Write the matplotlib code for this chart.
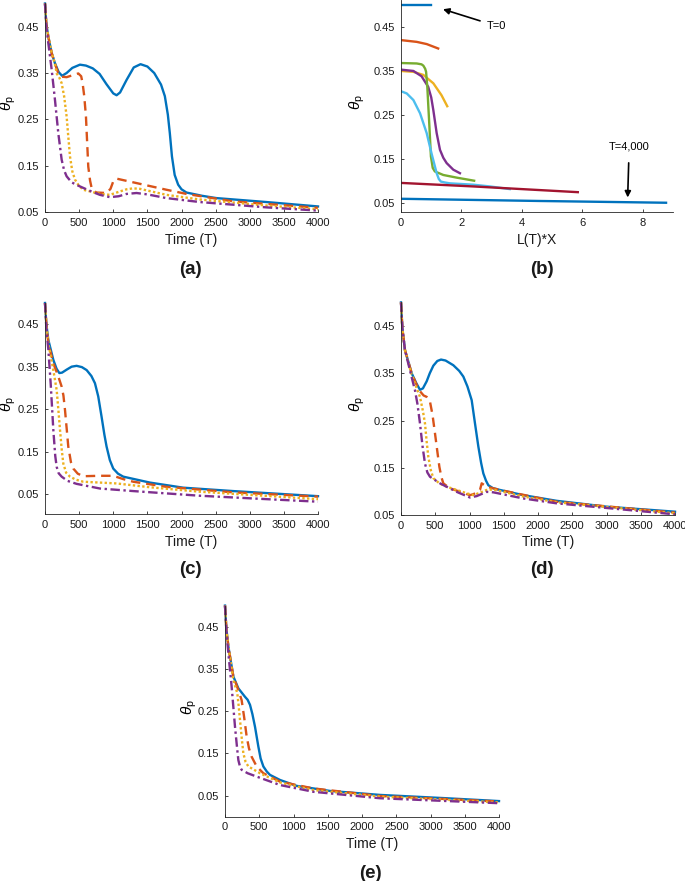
import matplotlib
matplotlib.use("Agg")
import matplotlib.pyplot as plt

plt.rcParams['font.family'] = ['Liberation Sans', 'DejaVu Sans']
plt.rcParams['mathtext.fontset'] = 'custom'
plt.rcParams['mathtext.rm'] = 'Liberation Sans'
plt.rcParams['mathtext.it'] = 'Liberation Sans:italic'

BLUE = '#0072BD'
ORANGE = '#D95319'
YELLOW = '#EDB120'
PURPLE = '#7E2F8E'
GREEN = '#77AC30'
LIGHTBLUE = '#4DBEEE'
DARKRED = '#A2142F'

yticks = [0.05, 0.15, 0.25, 0.35, 0.45]
xticks_time = [0, 500, 1000, 1500, 2000, 2500, 3000, 3500, 4000]
xticks_b = [0, 2, 4, 6, 8]

# panel (a)
a_blue_t = [0, 20, 49, 98, 146, 200, 250, 317, 400, 512, 600, 700, 800, 900, 1000, 1049, 1100, 1195,
            1300, 1400, 1500, 1600, 1700, 1756, 1800, 1829, 1860, 1900, 1951, 2000, 2073, 2300, 2512, 3244, 4000]
a_blue_y = [0.5, 0.455, 0.428, 0.393, 0.371, 0.352, 0.344, 0.350, 0.361, 0.368, 0.366, 0.360, 0.348, 0.326,
            0.306, 0.302, 0.308, 0.335, 0.362, 0.369, 0.364, 0.350, 0.325, 0.300, 0.260, 0.220, 0.170, 0.130,
            0.109, 0.099, 0.092, 0.085, 0.080, 0.0715, 0.062]
a_orange_t = [0, 20, 49, 98, 146, 200, 244, 317, 400, 488, 530, 551, 575, 600, 634, 660, 683, 720, 756, 902,
              960, 1000, 1049, 1293, 1780, 2073, 2756, 4000]
a_orange_y = [0.5, 0.455, 0.428, 0.393, 0.37, 0.347, 0.342, 0.341, 0.345, 0.349, 0.343, 0.328, 0.300, 0.256,
              0.148, 0.118, 0.102, 0.095, 0.092, 0.091, 0.100, 0.116, 0.122, 0.114, 0.098, 0.089, 0.073, 0.059]
a_yellow_t = [0, 20, 49, 98, 146, 171, 210, 244, 280, 317, 340, 366, 400, 439, 500, 561, 805, 951, 1050,
              1195, 1290, 1390, 1780, 2268, 3244, 4000]
a_yellow_y = [0.5, 0.455, 0.428, 0.393, 0.37, 0.349, 0.340, 0.328, 0.300, 0.256, 0.215, 0.17, 0.138, 0.12,
              0.106, 0.098, 0.089, 0.087, 0.092, 0.099, 0.101, 0.1, 0.087, 0.077, 0.064, 0.056]
a_purple_t = [0, 20, 49, 98, 146, 195, 244, 280, 317, 390, 470, 561, 700, 805, 951, 1080, 1195, 1341,
              1500, 1780, 2268, 3244, 4000]
a_purple_y = [0.5, 0.45, 0.414, 0.357, 0.292, 0.22, 0.163, 0.140, 0.127, 0.114, 0.108, 0.102, 0.093, 0.087,
              0.082, 0.084, 0.089, 0.091, 0.088, 0.080, 0.0715, 0.060, 0.053]

# panel (c)
c_blue_t = [0, 20, 49, 122, 170, 210, 250, 317, 390, 463, 540, 610, 680, 732, 780, 829, 870, 902, 950,
            1000, 1070, 1146, 1537, 2024, 2756, 4000]
c_blue_y = [0.5, 0.45, 0.413, 0.366, 0.345, 0.335, 0.336, 0.343, 0.350, 0.352, 0.349, 0.342, 0.328, 0.311,
            0.280, 0.232, 0.190, 0.162, 0.130, 0.11, 0.098, 0.091, 0.077, 0.065, 0.057, 0.045]
c_orange_t = [0, 20, 49, 122, 195, 244, 270, 293, 320, 341, 380, 415, 480, 561, 805, 1000, 1150, 1293,
              1780, 2756, 4000]
c_orange_y = [0.5, 0.45, 0.405, 0.358, 0.327, 0.303, 0.282, 0.248, 0.200, 0.162, 0.125, 0.11, 0.098, 0.092,
              0.093, 0.093, 0.085, 0.079, 0.067, 0.054, 0.044]
c_yellow_t = [0, 20, 49, 122, 171, 195, 220, 245, 268, 310, 366, 450, 561, 805, 1049, 1537, 2268, 4000]
c_yellow_y = [0.5, 0.45, 0.405, 0.342, 0.295, 0.250, 0.201, 0.155, 0.122, 0.100, 0.091, 0.084, 0.079,
              0.077, 0.075, 0.066, 0.0555, 0.038]
c_purple_t = [0, 20, 49, 83, 122, 150, 171, 200, 244, 330, 463, 805, 1293, 2268, 3244, 4000]
c_purple_y = [0.5, 0.44, 0.39, 0.311, 0.201, 0.140, 0.114, 0.099, 0.091, 0.081, 0.074, 0.063, 0.057,
              0.046, 0.038, 0.032]

# panel (d)
d_blue_t = [0, 20, 58, 156, 220, 277, 320, 375, 420, 472, 530, 584, 650, 764, 850, 910, 970, 1032, 1080,
            1129, 1170, 1202, 1240, 1275, 1340, 1445, 1786, 2272, 3002, 4000]
d_blue_y = [0.5, 0.445, 0.399, 0.35, 0.330, 0.315, 0.318, 0.333, 0.350, 0.366, 0.376, 0.379, 0.377, 0.367,
            0.355, 0.343, 0.322, 0.293, 0.244, 0.195, 0.160, 0.138, 0.123, 0.113, 0.107, 0.103, 0.092,
            0.080, 0.0676, 0.057]
d_orange_t = [0, 20, 58, 156, 230, 277, 330, 375, 423, 460, 496, 530, 560, 590, 618, 690, 764, 1007,
              1056, 1110, 1153, 1178, 1250, 1445, 2272, 4000]
d_orange_y = [0.5, 0.445, 0.399, 0.35, 0.325, 0.312, 0.303, 0.30, 0.29, 0.262, 0.223, 0.185, 0.152, 0.130,
              0.117, 0.109, 0.104, 0.092, 0.094, 0.098, 0.103, 0.117, 0.11, 0.103, 0.078, 0.055]
d_yellow_t = [0, 20, 58, 150, 204, 277, 320, 350, 375, 399, 435, 472, 560, 667, 958, 1056, 1150, 1250,
              1348, 1786, 2272, 4000]
d_yellow_y = [0.5, 0.445, 0.399, 0.350, 0.328, 0.30, 0.270, 0.244, 0.205, 0.173, 0.145, 0.128, 0.117,
              0.11, 0.096, 0.092, 0.097, 0.103, 0.104, 0.089, 0.077, 0.0535]
d_purple_t = [0, 20, 58, 150, 204, 240, 277, 315, 350, 385, 423, 569, 813, 1007, 1105, 1250, 1348, 1786,
              2272, 4000]
d_purple_y = [0.5, 0.445, 0.399, 0.345, 0.314, 0.285, 0.244, 0.195, 0.159, 0.140, 0.131, 0.117, 0.099,
              0.087, 0.09, 0.099, 0.098, 0.085, 0.0747, 0.0514]

# panel (e)
e_blue_t = [0, 20, 49, 122, 195, 292, 330, 365, 400, 438, 487, 520, 560, 610, 657, 803, 1046, 1533,
            2263, 3236, 4000]
e_blue_y = [0.5, 0.445, 0.403, 0.332, 0.304, 0.284, 0.277, 0.265, 0.243, 0.213, 0.166, 0.138, 0.119,
            0.107, 0.099, 0.087, 0.073, 0.061, 0.0516, 0.0437, 0.037]
e_orange_t = [0, 20, 49, 122, 195, 243, 280, 316, 350, 389, 462, 560, 803, 1290, 2263, 4000]
e_orange_y = [0.5, 0.445, 0.403, 0.332, 0.30, 0.276, 0.235, 0.19, 0.162, 0.142, 0.119, 0.103, 0.083,
              0.067, 0.049, 0.036]
e_yellow_t = [0, 20, 49, 122, 180, 200, 219, 245, 268, 300, 341, 511, 803, 1290, 2263, 4000]
e_yellow_y = [0.5, 0.445, 0.403, 0.324, 0.292, 0.262, 0.229, 0.185, 0.15, 0.130, 0.119, 0.103, 0.081,
              0.063, 0.0476, 0.034]
e_purple_t = [0, 20, 49, 97, 146, 175, 195, 220, 243, 330, 462, 803, 1290, 2263, 4000]
e_purple_y = [0.5, 0.44, 0.387, 0.308, 0.213, 0.165, 0.134, 0.118, 0.111, 0.103, 0.095, 0.075, 0.059,
              0.0437, 0.032]

# panel (b): profiles at successive times
b_x = [
    [0, 0.98],
    [0, 0.52, 0.85, 1.23],
    [0, 0.41, 0.74, 1.07, 1.34, 1.53],
    [0, 0.41, 0.68, 0.90, 1.00, 1.07, 1.18, 1.29, 1.40, 1.51, 1.73, 1.95],
    [0, 0.52, 0.68, 0.74, 0.80, 0.83, 0.87, 0.94, 0.99, 1.05, 1.12, 1.40, 1.84, 2.42],
    [0, 0.19, 0.41, 0.63, 0.85, 1.01, 1.18, 1.25, 1.32, 1.45, 1.62, 2.39, 2.94, 3.6],
    [0, 2.39, 5.85],
    [0, 4.59, 8.77],
]
b_y = [
    [0.5, 0.5],
    [0.42, 0.416, 0.411, 0.401],
    [0.35, 0.348, 0.341, 0.322, 0.295, 0.27],
    [0.353, 0.35, 0.338, 0.314, 0.290, 0.261, 0.209, 0.171, 0.153, 0.141, 0.126, 0.118],
    [0.368, 0.367, 0.365, 0.362, 0.355, 0.348, 0.314, 0.224, 0.156, 0.130, 0.122, 0.114, 0.108, 0.101],
    [0.304, 0.299, 0.284, 0.254, 0.209, 0.163, 0.118, 0.105, 0.099, 0.097, 0.095, 0.092, 0.088, 0.082],
    [0.096, 0.088, 0.075],
    [0.06, 0.055, 0.051],
]
b_colors = [BLUE, ORANGE, YELLOW, PURPLE, GREEN, LIGHTBLUE, DARKRED, BLUE]

W, H = 685, 881


def frac(left, top, right, bottom):
    return [left / W, 1 - bottom / H, (right - left) / W, (bottom - top) / H]


def style(ax, xticks, ylim, xlim, ylab_x):
    ax.set_xlim(*xlim)
    ax.set_ylim(*ylim)
    ax.set_xticks(xticks)
    ax.set_yticks(yticks)
    ax.set_yticklabels(['%.2f' % v for v in yticks])
    ax.spines['top'].set_visible(False)
    ax.spines['right'].set_visible(False)
    for side in ('left', 'bottom'):
        ax.spines[side].set_color('#262626')
        ax.spines[side].set_linewidth(0.6)
    ax.tick_params(direction='in', length=2.5, width=0.6, labelsize=8,
                   colors='#262626', labelcolor='#1a1a1a', pad=4)
    ax.set_ylabel(r'$\theta_{\mathrm{p}}$', fontsize=11)
    ax.yaxis.set_label_coords(ylab_x, 0.52)


def time_panel(ax, series, ylim, ylab_x):
    styles = [(BLUE, '-'), (ORANGE, (0, (4, 2.5))), (YELLOW, (0, (1, 1))),
              (PURPLE, (0, (4, 1.5, 1, 1.5)))]
    for (t, y), (c, ls) in zip(series, styles):
        ax.plot(t, y, color=c, linestyle=ls, linewidth=1.7, clip_on=False)
    style(ax, xticks_time, ylim, (0, 4000), ylab_x)


fig = plt.figure(figsize=(6.85, 8.81), dpi=100)

ax_a = fig.add_axes(frac(45, 3.5, 318, 212))
time_panel(ax_a, [(a_blue_t, a_blue_y), (a_orange_t, a_orange_y),
                  (a_yellow_t, a_yellow_y), (a_purple_t, a_purple_y)], (0.05, 0.5), -0.1)

ax_b = fig.add_axes(frac(401, 0, 673, 212))
for xs, ys, c in zip(b_x, b_y, b_colors):
    ax_b.plot(xs, ys, color=c, linewidth=1.7)
style(ax_b, xticks_b, (0.03, 0.511), (0, 9), -0.125)
ax_b.annotate('T=0', xy=(1.39, 0.490), xytext=(2.84, 0.452), fontsize=8,
              ha='left', va='center',
              arrowprops=dict(arrowstyle='-|>', color='black', lw=1.2,
                              shrinkA=3, shrinkB=0, mutation_scale=9))
ax_b.annotate('T=4,000', xy=(7.5, 0.063), xytext=(7.55, 0.178), fontsize=8,
              ha='center', va='center',
              arrowprops=dict(arrowstyle='-|>', color='black', lw=1.2,
                              shrinkA=6, shrinkB=0, mutation_scale=9))

ax_c = fig.add_axes(frac(45, 303, 318, 514))
time_panel(ax_c, [(c_blue_t, c_blue_y), (c_orange_t, c_orange_y),
                  (c_yellow_t, c_yellow_y), (c_purple_t, c_purple_y)], (0.003, 0.5), -0.1)

ax_d = fig.add_axes(frac(401, 302.4, 675, 515))
time_panel(ax_d, [(d_blue_t, d_blue_y), (d_orange_t, d_orange_y),
                  (d_yellow_t, d_yellow_y), (d_purple_t, d_purple_y)], (0.05, 0.5), -0.125)

ax_e = fig.add_axes(frac(225, 605.6, 499, 816.7))
time_panel(ax_e, [(e_blue_t, e_blue_y), (e_orange_t, e_orange_y),
                  (e_yellow_t, e_yellow_y), (e_purple_t, e_purple_y)], (0.0, 0.5), -0.095)

# axis titles and panel letters, placed in pixels
labels = [
    ('Time (T)', 191, 240, 10, 'normal'),
    ('(a)', 190, 269, 13.5, 'bold'),
    ('L(T)*X', 537, 240, 10, 'normal'),
    ('(b)', 542, 269, 13.5, 'bold'),
    ('Time (T)', 191, 542, 10, 'normal'),
    ('(c)', 190, 570, 13.5, 'bold'),
    ('Time (T)', 548, 542, 10, 'normal'),
    ('(d)', 542, 570, 13.5, 'bold'),
    ('Time (T)', 372, 844, 10, 'normal'),
    ('(e)', 370, 873, 13.5, 'bold'),
]
for txt, px, py, fs, fw in labels:
    fig.text(px / W, 1 - py / H, txt, fontsize=fs, fontweight=fw,
             ha='center', va='center', color='#1a1a1a')

fig.savefig('out.png', dpi=100)
